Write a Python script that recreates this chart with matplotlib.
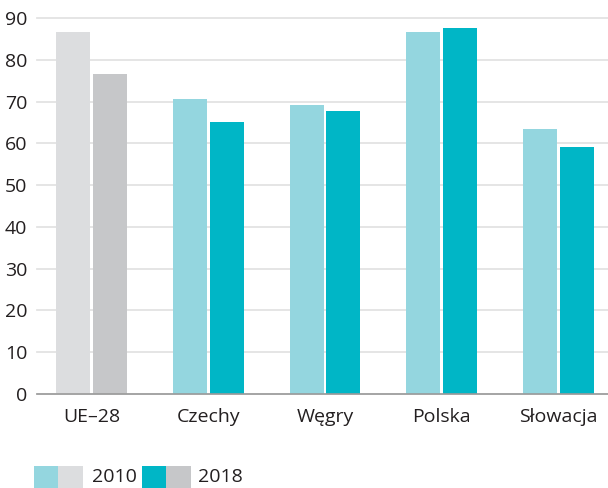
import matplotlib
matplotlib.use("Agg")
import matplotlib.pyplot as plt
from matplotlib.patches import Rectangle
import numpy as np

categories = ["UE–28", "Czechy", "Węgry", "Polska", "Słowacja"]
values_2010 = [86.7, 70.7, 69.2, 86.7, 63.4]
values_2018 = [76.6, 65.0, 67.8, 87.7, 59.2]
years = ["2010", "2018"]
yticks = [0, 10, 20, 30, 40, 50, 60, 70, 80, 90]

col_2010 = ["#DCDDDF", "#94D6DF", "#94D6DF", "#94D6DF", "#94D6DF"]
col_2018 = ["#C6C7C9", "#00B6C6", "#00B6C6", "#00B6C6", "#00B6C6"]
text_col = "#231F20"

plt.rcParams['font.family'] = ['Open Sans', 'DejaVu Sans']

fig = plt.figure(figsize=(6.08, 4.88), dpi=100)
ax = fig.add_axes([37/608, 1-394/488, 1-37/608, (394-18)/488])

x = np.arange(len(categories))
w = 0.291
off = 0.158
ax.bar(x - off, values_2010, width=w, color=col_2010, zorder=3)
ax.bar(x + off, values_2018, width=w, color=col_2018, zorder=3)

ax.set_xlim(-0.467, 4.424)
ax.set_ylim(0, 90)
ax.set_yticks(yticks)
ax.set_xticks(x)
ax.set_xticklabels(categories)
ax.grid(axis='y', color='#E3E3E3', linewidth=1.3, zorder=0)
for g in ax.get_ygridlines():
    g.set_clip_on(False)
for s in ['top', 'right', 'left']:
    ax.spines[s].set_visible(False)
ax.spines['bottom'].set_color('#9A9A9A')
ax.spines['bottom'].set_linewidth(1.2)
ax.spines['bottom'].set_zorder(4)
ax.tick_params(axis='both', length=0, labelsize=14, colors=text_col)
ax.tick_params(axis='y', pad=7)
ax.tick_params(axis='x', pad=10)

# legend (two-tone swatches)
def swatch(x0, c1, c2):
    fig.add_artist(Rectangle((x0/608, 0), 24/608, 22/488, transform=fig.transFigure, color=c1, lw=0))
    fig.add_artist(Rectangle(((x0+24)/608, 0), 25/608, 22/488, transform=fig.transFigure, color=c2, lw=0))

swatch(34, "#94D6DF", "#DCDDDF")
swatch(142, "#00B6C6", "#C6C7C9")
fig.text(92/608, 1-477/488, years[0], fontsize=14, color=text_col, va='center', ha='left')
fig.text(198/608, 1-477/488, years[1], fontsize=14, color=text_col, va='center', ha='left')

fig.savefig("out.png", dpi=100)
